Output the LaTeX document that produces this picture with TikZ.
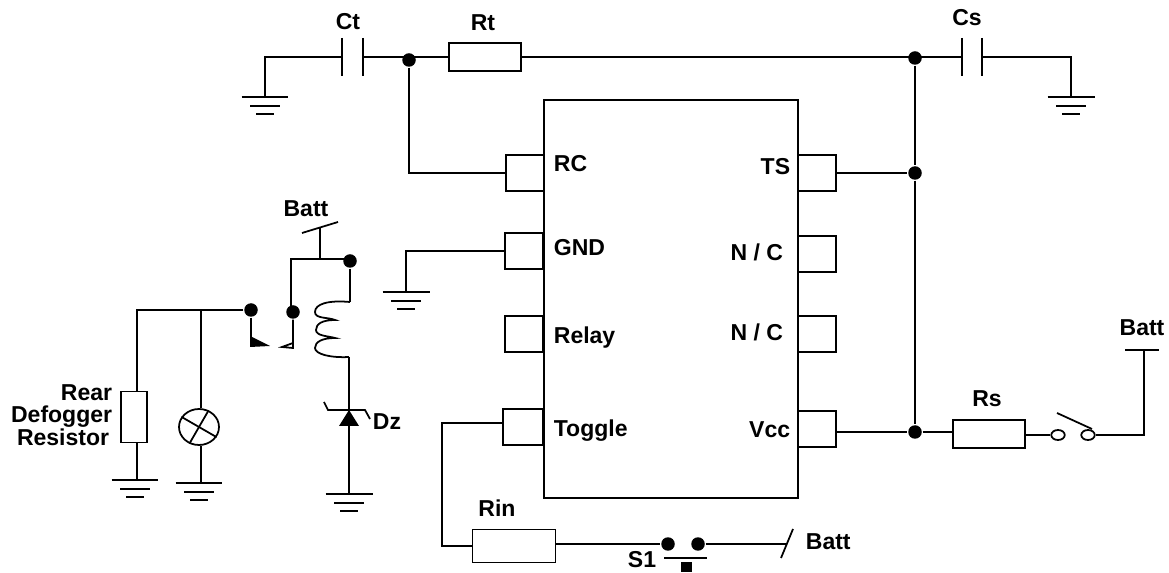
\documentclass[tikz,border=0pt]{standalone}
\usepackage{fontspec}
\setmainfont{Liberation Sans}
\usetikzlibrary{shapes.geometric}
\tikzstyle{lbl}=[inner sep=0pt,font=\fontsize{13.1}{12.7}\selectfont\bfseries]
\tikzstyle{pin}=[draw,rectangle,fill=white,minimum width=0.76cm,minimum height=0.72cm,inner sep=0pt]
\tikzstyle{res}=[draw,rectangle,minimum width=1.44cm,minimum height=0.56cm,inner sep=0pt]
\tikzstyle{dot}=[circle,fill=black,minimum size=0.27cm,inner sep=0pt]
\tikzstyle{contact}=[draw,ellipse,minimum width=0.27cm,minimum height=0.2cm,inner sep=0pt]

\begin{document}
\begin{tikzpicture}[x=0.02cm,y=-0.02cm,line width=1pt]
    \useasboundingbox (0,0) rectangle (1169,573);
    % chip and pins
    \node[draw,rectangle,minimum width=5.08cm,minimum height=7.96cm,inner sep=0pt] (chip) at (671,299) {};
    \node[pin] (rc) at (525,173) {};
    \node[pin] (gnd) at (524,251) {};
    \node[pin] (relay) at (524,334) {};
    \node[pin,minimum width=0.8cm] (toggle) at (523,427) {};
    \node[pin] (ts) at (817,173) {};
    \node[pin] (nc1) at (817,254) {};
    \node[pin] (nc2) at (817,334) {};
    \node[pin] (vcc) at (817,429) {};
    \node[lbl,anchor=west] (lrc) at (553,164) {RC};
    \node[lbl,anchor=west] (lgnd) at (553,248) {GND};
    \node[lbl,anchor=west] (lrelay) at (553,338) {Relay};
    \node[lbl,anchor=west] (ltoggle) at (553,431) {Toggle};
    \node[lbl,anchor=east] (lts) at (791,167) {TS};
    \node[lbl,anchor=east] (lnc1) at (784,252) {N / C};
    \node[lbl,anchor=east] (lnc2) at (784,332) {N / C};
    \node[lbl,anchor=east] (lvcc) at (791,430) {Vcc};

    % resistors
    \node[res] (rt) at (485,57) {};
    \node[res] (rs) at (989,434) {};
    \node[res,minimum width=1.66cm,minimum height=0.66cm] (rin) at (514,546) {};
    \node[res,minimum width=0.52cm,minimum height=1.02cm] (rdef) at (134,417) {};
    \node[lbl] (lrt) at (483,23) {Rt};
    \node[lbl] (lrs) at (987,399) {Rs};
    \node[lbl] (lrin) at (497,508) {Rin};
    \node[lbl,align=right,anchor=east] (lrdef) at (113,415) {Rear\\Defogger\\Resistor\hspace{0.06cm}\mbox{}};

    % junctions
    \node[dot] (d1) at (409,60) {};
    \node[dot] (d2) at (915,58) {};
    \node[dot] (d3) at (915,173) {};
    \node[dot] (d4) at (915,432) {};
    \node[dot] (d5) at (350,261) {};
    \node[dot] (d6) at (251,310) {};
    \node[dot] (d7) at (293,312) {};
    \node[dot] (d8) at (668,544) {};
    \node[dot] (d9) at (698,544) {};

    % grounds
    \foreach \n/\x/\y in {g1/265/97,g2/1071/97,g3/406/292,g4/135/480,g5/199/483,g6/349/494}{
        \coordinate (\n) at (\x,\y);
        \draw ([xshift=-0.47cm]\n) -- ([xshift=0.47cm]\n);
        \draw ([xshift=-0.3cm,yshift=-0.18cm]\n) -- ([xshift=0.3cm,yshift=-0.18cm]\n);
        \draw ([xshift=-0.18cm,yshift=-0.34cm]\n) -- ([xshift=0.18cm,yshift=-0.34cm]\n);
    }

    % capacitors
    \foreach \n/\x in {ct1/342,ct2/363,cs1/962,cs2/982}{
        \coordinate (\n) at (\x,57);
        \draw ([yshift=0.38cm]\n) -- ([yshift=-0.38cm]\n);
    }
    \node[lbl] (lct) at (348,22) {Ct};
    \node[lbl] (lcs) at (967,18) {Cs};

    % top wires
    \draw (g1) -- (265,57) -- (ct1);
    \draw (ct2) -- (rt);
    \draw (rt.east) -- (d2.center |- rt.east);
    \draw (d2.center |- cs1) -- (cs1);
    \draw (cs2) -- (1071,57) -- (g2);
    \foreach \from/\to in {d2/d3,d3/d4,ts/d3}
    \draw (\from) -- (\to);
    \draw (d1) |- (rc);
    \draw (gnd) -| (g3);
    \draw (vcc.east |- d4) -- (d4);
    \draw (d4) -- (rs.west |- d4);

    % supply switch
    \node[contact] (sw1) at (1058,435) {};
    \node[contact] (sw2) at (1088,435) {};
    \coordinate (b1) at (1144,350);
    \coordinate (sl1) at (1057,413);
    \coordinate (sl2) at (1092,429);
    \draw (rs.east |- sw1) -- (sw1);
    \draw (sl1) -- (sl2);
    \draw (sw2) -- (1144,435) -- (b1);
    \draw ([xshift=-0.38cm]b1) -- ([xshift=0.3cm]b1);
    \node[lbl] (lb1) at (1142,328) {Batt};

    % toggle input
    \coordinate (tg) at (442,423);
    \coordinate (sl3) at (781,558);
    \coordinate (sl4) at (793,529);
    \coordinate (sb1) at (664,558);
    \coordinate (sb2) at (707,558);
    \draw (toggle.west |- tg) -- (tg) -- (442,546) -- (rin);
    \draw (rin.east |- d8) -- (d8);
    \draw (d9) -- (787,544);
    \draw (sl3) -- (sl4);
    \draw (sb1) -- (sb2);
    \node[rectangle,fill=black,minimum size=0.22cm,inner sep=0pt] (sq) at (686,567) {};
    \node[lbl] (ls1) at (642,560) {S1};
    \node[lbl,anchor=west] (lb2) at (805,542) {Batt};

    % relay
    \coordinate (b2) at (320,259);
    \coordinate (t1) at (302,233);
    \coordinate (t2) at (338,222);
    \coordinate (c1) at (350,302);
    \coordinate (c2) at (349,357);
    \coordinate (r1) at (291,259);
    \node[lbl] (lb3) at (306,209) {Batt};
    \draw (t1) -- (t2);
    \draw (320,228) -- (b2);
    \draw (d7 -| r1) -- (r1) -- (d5 |- r1);
    \draw (d5) -- (c1);
    \draw (c1) .. controls (328,300) and (315,304) .. (315,312)
        .. controls (315,319) and (328,317) .. (335,320)
        .. controls (322,320) and (316,324) .. (316,330)
        .. controls (316,336) and (328,336) .. (335,338)
        .. controls (322,338) and (315,342) .. (315,348)
        .. controls (315,354) and (330,358) .. (c2);
    \draw (d6) -- (251,346);
    \fill (250,336) -- (270,346) -- (250,347) -- cycle;
    \draw (d7) -- (293,348) -- (282,347) -- (293,343);

    % diode
    \coordinate (dz1) at (349,410);
    \fill (dz1) -- (359,426) -- (339,426) -- cycle;
    \draw (c2) -- (dz1);
    \draw (dz1) -- (g6);
    \draw (324,402) -- (328,410) -- (365,410) -- (370,419);
    \node[lbl,anchor=west] (ldz) at (372,422) {Dz};

    % load
    \coordinate (w1) at (137,310);
    \coordinate (w2) at (201,310);
    \node[draw,ellipse,minimum width=0.8cm,minimum height=0.72cm,inner sep=0pt] (lamp) at (199,427) {};
    \draw (lamp.150) -- (lamp.-30);
    \draw (lamp.60) -- (lamp.240);
    \draw (d6) -- (w1) -- (w1 |- rdef.north);
    \draw (w1 |- rdef.south) -- (w1 |- g4);
    \draw (w2) -- (lamp.north -| w2);
    \draw (lamp.south -| w2) -- (w2 |- g5);
\end{tikzpicture}
\end{document}
